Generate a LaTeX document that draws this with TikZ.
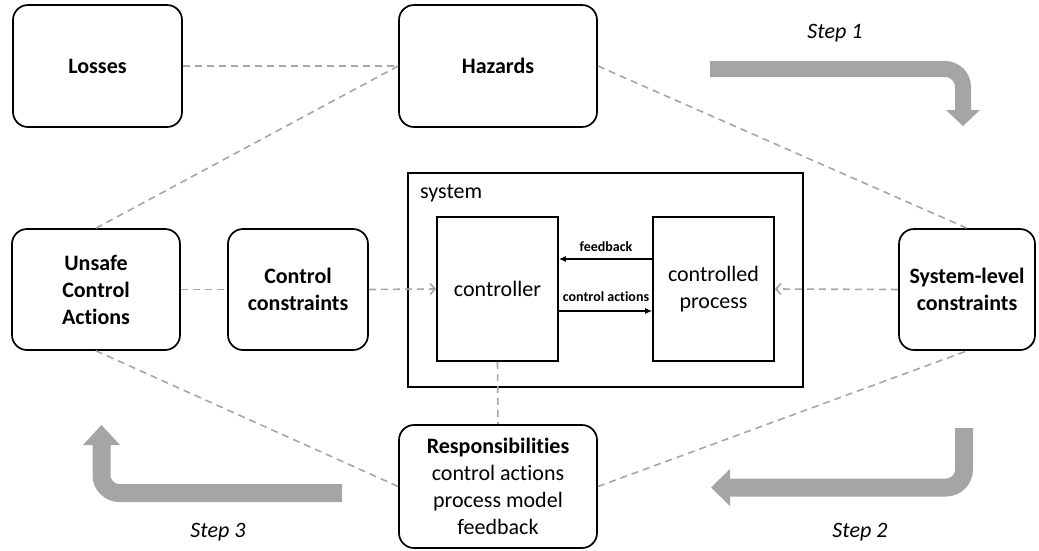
\documentclass[tikz,border=0pt]{standalone}
\usepackage{fontspec}
\setmainfont[Ligatures=NoCommon]{Carlito}
\usetikzlibrary{arrows.meta}
\definecolor{lgray}{HTML}{A6A6A6}
\definecolor{agray}{HTML}{A5A5A5}
\begin{document}
\begin{tikzpicture}[x=1pt,y=-1pt,
  box/.style={draw=black, line width=1.7pt, rounded corners=15pt, align=center, font=\bfseries\fontsize{22}{27}\selectfont, inner sep=0pt},
  sq/.style={draw=black, line width=1.7pt, align=center, font=\fontsize{22}{27}\selectfont, inner sep=0pt},
  link/.style={draw=lgray, line width=1.6pt, dash pattern=on 7pt off 5pt},
  barb/.style={-{Straight Barb[length=5pt,width=11pt]}},
  bigarrow/.style={draw=agray, line width=17pt, rounded corners=18pt},
  steplabel/.style={font=\itshape\fontsize{22}{27}\selectfont},
  small/.style={font=\bfseries\fontsize{14}{16}\selectfont, inner sep=0pt},
  inner/.style={line width=1.3pt, -{Latex[length=7pt,width=6pt]}}]
\useasboundingbox (0,0) rectangle (1039,550);

% boxes
\node[box, minimum width=169pt, minimum height=122pt] (losses) at (97.5,66) {Losses};
\node[box, minimum width=198pt, minimum height=122pt] (hazards) at (498,66) {Hazards};
\node[box, minimum width=168pt, minimum height=121pt] (uca) at (96,289.5) {Unsafe\\Control\\Actions};
\node[box, minimum width=140pt, minimum height=121pt] (cc) at (298,289.5) {Control\\constraints};
\node[box, minimum width=136pt, minimum height=121pt] (slc) at (967,289.5) {System-level\\constraints};
\node[box, minimum width=198pt, minimum height=123pt, font=\fontsize{22}{27}\selectfont] (resp) at (498,486.5) {\textbf{Responsibilities}\\control actions\\process model\\feedback};

% system
\node[sq, minimum width=395pt, minimum height=214pt] (sys) at (605.5,280) {};
\node[anchor=base west, inner sep=0pt, font=\fontsize{22}{27}\selectfont] (syslabel) at (420,198) {system};
\node[sq, minimum width=121pt, minimum height=144pt] (ctrl) at (497.5,289) {controller};
\node[sq, minimum width=121pt, minimum height=144pt] (proc) at (713.5,289) {controlled\\process};

\draw[inner] ([yshift=30pt]proc.west) -- ([yshift=30pt]ctrl.east);
\draw[inner] ([yshift=-22pt]ctrl.east) -- ([yshift=-22pt]proc.west);
\node[small] (fb) at (606,247) {feedback};
\node[small] (ca) at (606,297) {control actions};

% dashed links
\draw[link] (losses.east) -- (hazards.west);
\draw[link] (hazards.west) -- (uca.north);
\draw[link] (hazards.east) -- (slc.north);
\draw[link] (uca.east) -- (cc.west);
\draw[link, barb] (cc.east) -- (ctrl.west);
\draw[link, barb] (slc.west) -- (proc.east);
\draw[link] (uca.south) -- (resp.west);
\draw[link] (resp.east) -- (slc.south);
\draw[link] (ctrl.south) -- (resp.north);

% step arrows
\draw[bigarrow, line width=16pt] (710,69) -- (963,69) -- (963,111);
\fill[agray] (946,110) -- (980,110) -- (963,126) -- cycle;
\node[steplabel] (s1) at (835,33) {Step 1};

\draw[bigarrow, line width=18pt] (964,428) -- (964,487.5) -- (729,487.5);
\fill[agray] (730,469) -- (730,506) -- (711,487.5) -- cycle;
\node[steplabel] (s2) at (860,532) {Step 2};

\draw[bigarrow, line width=18pt] (342,493) -- (101.5,493) -- (101.5,444);
\fill[agray] (83,445) -- (120,445) -- (101.5,425) -- cycle;
\node[steplabel] (s3) at (218,532) {Step 3};
\end{tikzpicture}
\end{document}
